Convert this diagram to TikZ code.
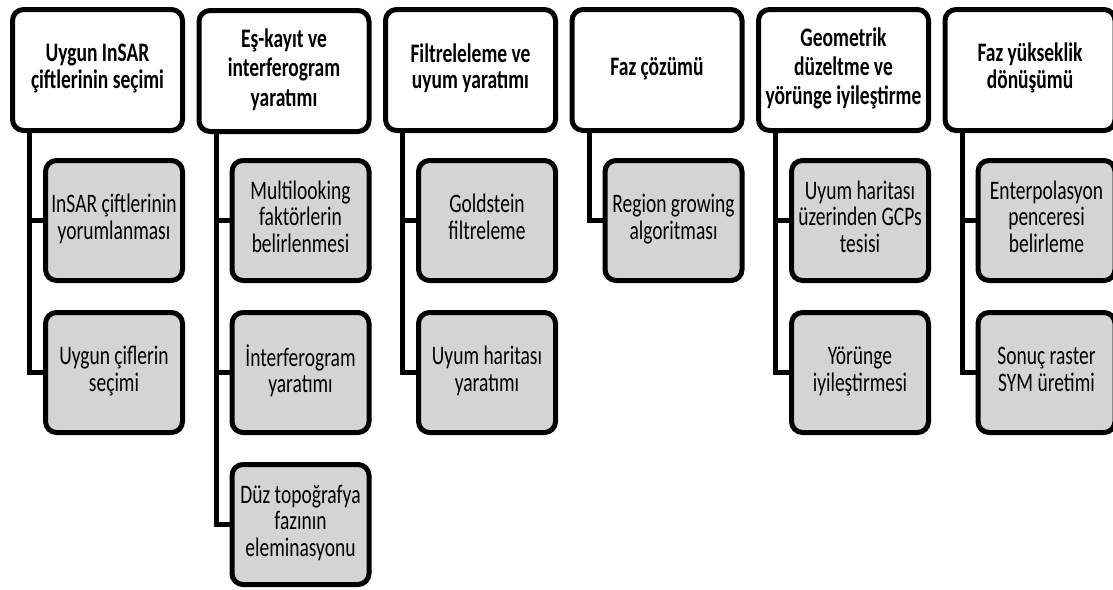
\documentclass[tikz,border=0pt]{standalone}
\usepackage{fontspec}
\usepackage{graphicx}
\setmainfont{Carlito}
\definecolor{subgray}{RGB}{212,212,212}
\newcommand{\vtext}[2][1]{\scalebox{1}[1.37]{\renewcommand{\arraystretch}{#1}\begin{tabular}{@{}c@{}}#2\end{tabular}}}
\begin{document}
\begin{tikzpicture}[x=1pt,y=-1pt,
  topbox/.style={draw, line width=5pt, rounded corners=11pt, fill=white,
    minimum width=170pt, minimum height=121pt, inner sep=0pt, outer sep=0pt,
    font=\bfseries\fontsize{19.5}{19.5}\selectfont},
  subbox/.style={draw, line width=5pt, rounded corners=11pt, fill=subgray,
    minimum width=137pt, minimum height=120pt, inner sep=0pt, outer sep=0pt,
    font=\fontsize{19.5}{19.5}\selectfont},
  conn/.style={line width=5pt}]
\useasboundingbox (0,0) rectangle (1113,589);
% column 1
\node[topbox] (t1) at (97.5,70) {\vtext{Uygun InSAR\\çiftlerinin seçimi}};
\node[subbox] (c11) at (114,220.5) {\vtext{InSAR çiftlerinin\\yorumlanması}};
\node[subbox] (c12) at (114,372.5) {\vtext{Uygun çiflerin\\seçimi}};
% column 2
\node[topbox] (t2) at (284,71) {\vtext[1.1]{Eş-kayıt ve\\interferogram\\yaratımı}};
\node[subbox] (c21) at (300.5,220.5) {\vtext{Multilooking\\faktörlerin\\belirlenmesi}};
\node[subbox] (c22) at (300.5,372.5) {\vtext{İnterferogram\\yaratımı}};
\node[subbox] (c23) at (300.5,524.5) {\vtext{Düz topoğrafya\\fazının\\eleminasyonu}};
% column 3
\node[topbox] (t3) at (470.5,70) {\vtext{Filtreleleme ve\\uyum yaratımı}};
\node[subbox] (c31) at (487,220.5) {\vtext{Goldstein\\filtreleme}};
\node[subbox] (c32) at (487,372.5) {\vtext{Uyum haritası\\yaratımı}};
% column 4
\node[topbox] (t4) at (657,70) {\vtext{Faz çözümü}};
\node[subbox] (c41) at (673.5,220.5) {\vtext{Region growing\\algoritması}};
% column 5
\node[topbox] (t5) at (843.5,70) {\vtext[1.08]{Geometrik\\düzeltme ve\\yörünge iyileştirme}};
\node[subbox] (c51) at (860,220.5) {\vtext{Uyum haritası\\üzerinden GCPs\\tesisi}};
\node[subbox] (c52) at (860,372.5) {\vtext{Yörünge\\iyileştirmesi}};
% column 6
\node[topbox] (t6) at (1030,70) {\vtext{Faz yükseklik\\dönüşümü}};
\node[subbox] (c61) at (1046.5,220.5) {\vtext{Enterpolasyon\\penceresi\\belirleme}};
\node[subbox] (c62) at (1046.5,372.5) {\vtext{Sonuç raster\\SYM üretimi}};
% connectors
\draw[conn] ([xshift=-68pt]t1.south) |- (c12.west);
\draw[conn] (c11.west) -- ([xshift=-16pt]c11.west);
\draw[conn] ([xshift=-68pt]t2.south) |- (c23.west);
\draw[conn] (c21.west) -- ([xshift=-16pt]c21.west);
\draw[conn] (c22.west) -- ([xshift=-16pt]c22.west);
\draw[conn] ([xshift=-68pt]t3.south) |- (c32.west);
\draw[conn] (c31.west) -- ([xshift=-16pt]c31.west);
\draw[conn] ([xshift=-68pt]t4.south) |- (c41.west);
\draw[conn] ([xshift=-68pt]t5.south) |- (c52.west);
\draw[conn] (c51.west) -- ([xshift=-16pt]c51.west);
\draw[conn] ([xshift=-68pt]t6.south) |- (c62.west);
\draw[conn] (c61.west) -- ([xshift=-16pt]c61.west);
\end{tikzpicture}
\end{document}
